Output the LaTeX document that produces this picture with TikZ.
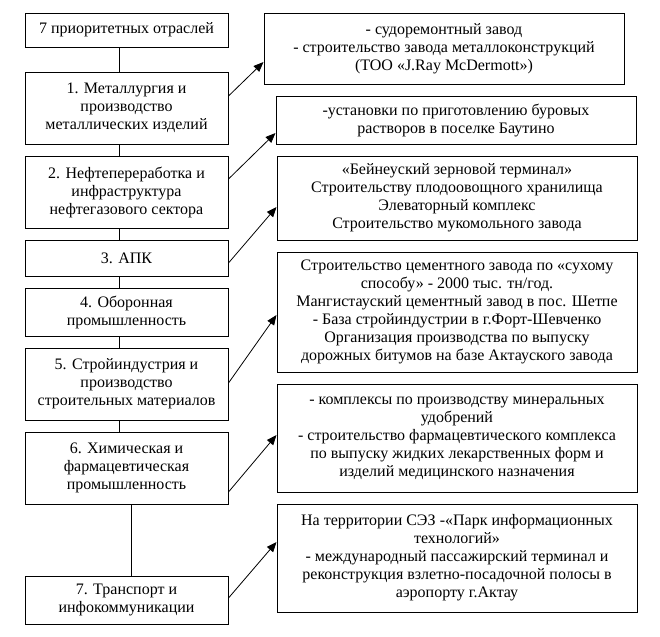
\documentclass[tikz,border=0pt]{standalone}
\usepackage{fontspec}
\setmainfont{Liberation Serif}
\newfontfamily\tnrfont{Liberation Serif}
\usetikzlibrary{arrows.meta}
\begin{document}
\begin{tikzpicture}[x=0.75pt,y=-0.75pt,
  lbox/.style={draw,line width=0.75pt,inner sep=0pt,align=center,
    minimum width=203*0.75pt,font=\tnrfont\fontsize{12}{13.5}\selectfont},
  rbox/.style={draw,line width=0.75pt,inner sep=0pt,align=center,
    minimum width=360*0.75pt,font=\tnrfont\fontsize{12}{13.5}\selectfont},
  link/.style={line width=0.75pt},
  arr/.style={line width=0.6pt,-{Triangle[length=7.5pt,width=6pt]}}]
\useasboundingbox (0,0) rectangle (660,636);
% left column
\node[lbox,minimum height=34*0.75pt] (l0) at (126.5,30) {7 приоритетных отраслей};
\node[lbox,minimum height=72*0.75pt] (l1) at (126.5,108) {1. Металлургия и\\производство\\металлических изделий};
\node[lbox,minimum height=72*0.75pt] (l2) at (126.5,192) {2. Нефтепереработка и\\инфраструктура\\нефтегазового сектора};
\node[lbox,minimum height=36*0.75pt] (l3) at (126.5,258) {3. АПК};
\node[lbox,minimum height=48*0.75pt] (l4) at (126.5,312) {4. Оборонная\\промышленность};
\node[lbox,minimum height=72*0.75pt] (l5) at (126.5,384) {5. Стройиндустрия и\\производство\\строительных материалов};
\node[lbox,minimum height=72*0.75pt] (l6) at (126.5,468) {6. Химическая и\\фармацевтическая\\промышленность};
\node[lbox,minimum height=48*0.75pt] (l7) at (126.5,600) {7. Транспорт и\\инфокоммуникации};
% right column
\node[rbox,minimum height=71*0.75pt] (r1) at (444,48.5) {- судоремонтный завод\\- строительство завода металлоконструкций\\(ТОО «J.Ray McDermott»)};
\node[rbox,minimum height=48*0.75pt] (r2) at (456,120) {-установки по приготовлению буровых\\растворов в поселке Баутино};
\node[rbox,minimum height=84*0.75pt] (r3) at (457,198) {«Бейнеуский зерновой терминал»\\Строительству плодоовощного хранилища\\Элеваторный комплекс\\Строительство мукомольного завода};
\node[rbox,minimum height=120*0.75pt] (r4) at (457,312) {Строительство цементного завода по «сухому\\способу» - 2000 тыс. тн/год.\\Мангистауский цементный завод в пос. Шетпе\\- База стройиндустрии в г.Форт-Шевченко\\Организация производства по выпуску\\дорожных битумов на базе Актауского завода};
\node[rbox,minimum height=108*0.75pt] (r5) at (457,438) {- комплексы по производству минеральных\\удобрений\\- строительство фармацевтического комплекса\\по выпуску жидких лекарственных форм и\\изделий медицинского назначения};
\node[rbox,minimum height=108*0.75pt] (r6) at (457,558) {На территории СЭЗ -«Парк информационных\\технологий»\\- международный пассажирский терминал и\\реконструкция взлетно-посадочной полосы в\\аэропорту г.Актау};
% vertical links
\draw[link] ([xshift=-4.9pt]l0.south) -- ([xshift=-4.9pt]l1.north);
\draw[link] ([xshift=-4.9pt]l1.south) -- ([xshift=-4.9pt]l2.north);
\draw[link] ([xshift=-4.9pt]l2.south) -- ([xshift=-4.9pt]l3.north);
\draw[link] ([xshift=-4.9pt]l3.south) -- ([xshift=-4.9pt]l4.north);
\draw[link] ([xshift=-4.9pt]l4.south) -- ([xshift=-4.9pt]l5.north);
\draw[link] ([xshift=-4.9pt]l5.south) -- ([xshift=-4.9pt]l6.north);
\draw[link] ([xshift=4.1pt]l6.south) -- ([xshift=4.1pt]l7.north);
% arrows
\draw[arr] (l1.east |- 0,96) -- (r1.west |- 0,62);
\draw[arr] (l2.east |- 0,179) -- (r2.west |- 0,133);
\draw[arr] (l3.east |- 0,263) -- (r3.west |- 0,207);
\draw[arr] (l5.east |- 0,383) -- (r4.west |- 0,315);
\draw[arr] (l6.east |- 0,492) -- (r5.west |- 0,435);
\draw[arr] (l7.east |- 0,598) -- (r6.west |- 0,542);
\end{tikzpicture}
\end{document}
